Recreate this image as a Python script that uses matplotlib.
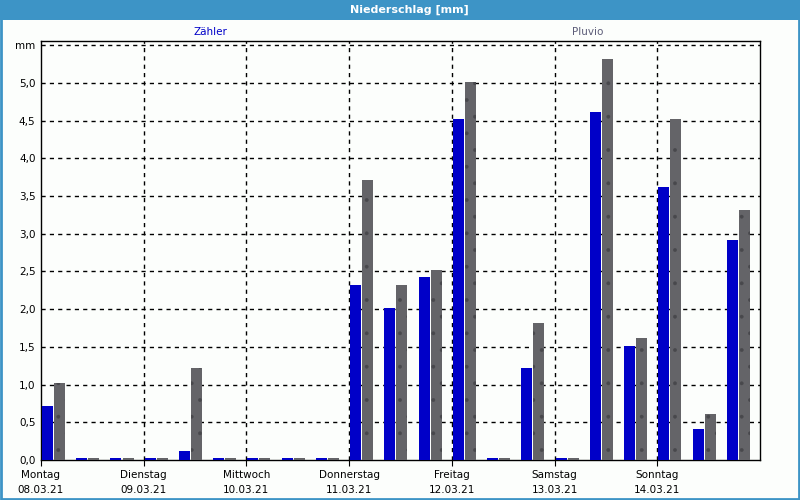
import numpy as np
import matplotlib
matplotlib.use("Agg")
import matplotlib.pyplot as plt
from matplotlib.patches import Rectangle

# Niederschlag in 8-Stunden-Intervallen (3 pro Tag, 7 Tage)
zaehler = [0.72, 0.02, 0.02, 0.02, 0.12, 0.02, 0.02, 0.02, 0.02,
           2.32, 2.02, 2.42, 4.52, 0.02, 1.22, 0.02, 4.62, 1.51,
           3.62, 0.41, 2.92]
pluvio = [1.02, 0.02, 0.02, 0.02, 1.22, 0.02, 0.02, 0.02, 0.02,
          3.71, 2.32, 2.52, 5.01, 0.02, 1.82, 0.02, 5.32, 1.62,
          4.52, 0.61, 3.32]
tage = ["Montag", "Dienstag", "Mittwoch", "Donnerstag", "Freitag", "Samstag", "Sonntag"]
daten = ["08.03.21", "09.03.21", "10.03.21", "11.03.21", "12.03.21", "13.03.21", "14.03.21"]
y_ticks = [0.0, 0.5, 1.0, 1.5, 2.0, 2.5, 3.0, 3.5, 4.0, 4.5, 5.0, 5.5]

BLAU = "#0000c8"
GRAU = "#646468"
RAHMEN = "#3d94c6"

plt.rcParams["hatch.linewidth"] = 0.3

fig = plt.figure(figsize=(8, 5), dpi=100)
fig.patch.set_facecolor("#fcfefc")

# Titelleiste und Fensterrahmen
fig.patches.append(Rectangle((0, 0.96), 1, 0.04, transform=fig.transFigure,
                             facecolor=RAHMEN, edgecolor="none", zorder=0))
fig.patches.append(Rectangle((0.0015, 0.002), 0.997, 0.996, transform=fig.transFigure,
                             facecolor="none", edgecolor=RAHMEN, linewidth=2, zorder=0))
fig.text(0.512, 0.98, "Niederschlag [mm]", color="white", fontsize=8, fontweight="bold",
         ha="center", va="center")

ax = fig.add_axes([41 / 800, 40 / 500, 719 / 800, 419.3 / 500])
ax.set_facecolor("#fcfefc")

x = np.arange(len(zaehler)) / 3
breite = 0.107
ax.bar(x + 0.0097, zaehler, width=breite, align="edge", color=BLAU, linewidth=0, zorder=3)
ax.bar(x + 0.127, pluvio, width=breite, align="edge", color=GRAU, edgecolor="#48484c",
       linewidth=0, hatch=".", zorder=3)

ax.set_xlim(0, 7)
ax.set_ylim(0, 5.56)

# Gitter
for yv in y_ticks[1:]:
    ax.axhline(yv, color="black", linestyle=(0, (3, 3)), linewidth=1, zorder=1)
for d in range(1, 7):
    ax.axvline(d, color="black", linestyle=(0, (3, 3)), linewidth=1, zorder=1)

ax.set_yticks(y_ticks)
ax.set_yticklabels([f"{v:.1f}".replace(".", ",") for v in y_ticks[:-1]] + ["mm"], fontsize=7.5)
ax.tick_params(axis="y", length=0, pad=4)
ax.set_xticks(range(7))
ax.set_xticklabels([f"{t}\n{d}" for t, d in zip(tage, daten)], fontsize=7.5, linespacing=1.6)
ax.tick_params(axis="x", length=4, pad=3, direction="out")
for s in ax.spines.values():
    s.set_linewidth(1)
    s.set_color("black")

fig.text(210 / 800, 1 - 32 / 500, "Zähler", color=BLAU, fontsize=7.5, ha="center", va="center")
fig.text(588 / 800, 1 - 32 / 500, "Pluvio", color="#5c5c78", fontsize=7.5, ha="center", va="center")

fig.savefig("out.png", dpi=100, facecolor=fig.get_facecolor())
